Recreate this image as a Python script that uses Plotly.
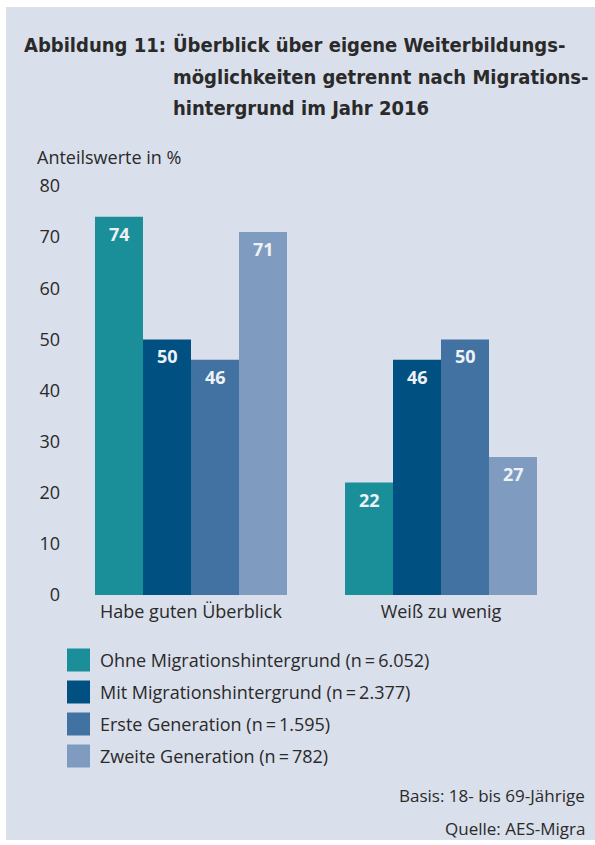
import plotly.graph_objects as go

categories = ["Habe guten Überblick", "Weiß zu wenig"]
series_names = [
    "Ohne Migrationshintergrund (n\u2009=\u20096.052)",
    "Mit Migrationshintergrund (n\u2009=\u20092.377)",
    "Erste Generation (n\u2009=\u20091.595)",
    "Zweite Generation (n\u2009=\u2009782)",
]
ohne = [74, 22]
mit = [50, 46]
erste = [46, 50]
zweite = [71, 27]
series_values = [ohne, mit, erste, zweite]
colors = ["#1a8f9a", "#005182", "#4272a1", "#7f9cc0"]
y_ticks = [0, 10, 20, 30, 40, 50, 60, 70, 80]

PANEL = "#d9dfeb"
PLOTBG = "#c9d3e5"
TXT = "#2a2a2a"
FONT = "Open Sans"

fig = go.Figure()
for name, vals, col in zip(series_names, series_values, colors):
    fig.add_trace(go.Bar(x=categories, y=vals, name=name, marker_color=col,
                         marker_line_width=0, showlegend=False))

bargap = 0.232
n = len(series_values)
bw = (1 - bargap) / n
for i, vals in enumerate(series_values):
    for j, v in enumerate(vals):
        fig.add_annotation(x=j + (i - (n - 1) / 2) * bw, y=v, xref="x", yref="y",
                           text=f"<b>{v}</b>", showarrow=False, yanchor="middle",
                           yshift=-17, font=dict(family=FONT, size=18, color="#eef1f6"))

# gridlines (interior ticks only)
for t in y_ticks[1:-1]:
    fig.add_shape(type="line", xref="paper", yref="y", x0=0, x1=1, y0=t, y1=t,
                  line=dict(color="white", width=1.7), layer="below")

fig.update_layout(
    width=595, height=845,
    margin=dict(l=66, r=29, t=186, b=250),
    paper_bgcolor="white",
    plot_bgcolor=PLOTBG,
    barmode="group", bargap=bargap, bargroupgap=0,
    font=dict(family=FONT, size=17, color=TXT),
    xaxis=dict(showgrid=False, showline=False, ticks="", tickfont=dict(size=18),
               ticklabelstandoff=4),
    yaxis=dict(range=[0, 80], tickvals=y_ticks, showgrid=False, zeroline=False,
               showline=False, ticks="", tickfont=dict(size=18), ticklabelstandoff=5),
)

# Panel background
fig.add_shape(type="rect", xref="paper", yref="paper", layer="below",
              x0=(6 - 66) / 500, x1=(595 - 66) / 500,
              y0=-(840 - 595) / 409, y1=1 + (186 - 7) / 409,
              line_width=0, fillcolor=PANEL)

# Title
tfont = dict(family="DejaVu Sans Condensed", size=20, color=TXT)
fig.add_annotation(xref="paper", yref="paper", x=(22 - 66) / 500, y=1 + (186 - 45) / 409,
                   text="<b>Abbildung 11:</b>", showarrow=False, xanchor="left",
                   yanchor="middle", font=tfont)
for line, yc in zip(["Überblick über eigene Weiterbildungs-",
                     "möglichkeiten getrennt nach Migrations-",
                     "hintergrund im Jahr 2016"], [45, 77, 108]):
    fig.add_annotation(xref="paper", yref="paper", x=(171 - 66) / 500, y=1 + (186 - yc) / 409,
                       text=f"<b>{line}</b>", showarrow=False, xanchor="left",
                       yanchor="middle", font=tfont)

fig.add_annotation(xref="paper", yref="paper", x=(35 - 66) / 500, y=1 + (186 - 157) / 409,
                   text="Anteilswerte in %", showarrow=False, xanchor="left",
                   yanchor="middle", font=dict(family=FONT, size=18, color=TXT))

# Legend (manual)
leg_y = [660, 692, 724, 756]
for name, col, yc in zip(series_names, colors, leg_y):
    fig.add_shape(type="rect", xref="paper", yref="paper",
                  x0=(67 - 66) / 500, x1=(90 - 66) / 500,
                  y0=-(yc + 11.5 - 595) / 409, y1=-(yc - 11.5 - 595) / 409,
                  line_width=0, fillcolor=col)
    fig.add_annotation(xref="paper", yref="paper", x=(98 - 66) / 500, y=-(yc - 595) / 409,
                       text=name, showarrow=False, xanchor="left", yanchor="middle",
                       font=dict(family=FONT, size=18, color=TXT))

for txt, yc in [("Basis: 18- bis 69-Jährige", 795), ("Quelle: AES-Migra", 828)]:
    fig.add_annotation(xref="paper", yref="paper", x=(587 - 66) / 500, y=-(yc - 595) / 409,
                       text=txt, showarrow=False, xanchor="right", yanchor="middle",
                       font=dict(family=FONT, size=17, color=TXT))

fig.write_html("out.html")
